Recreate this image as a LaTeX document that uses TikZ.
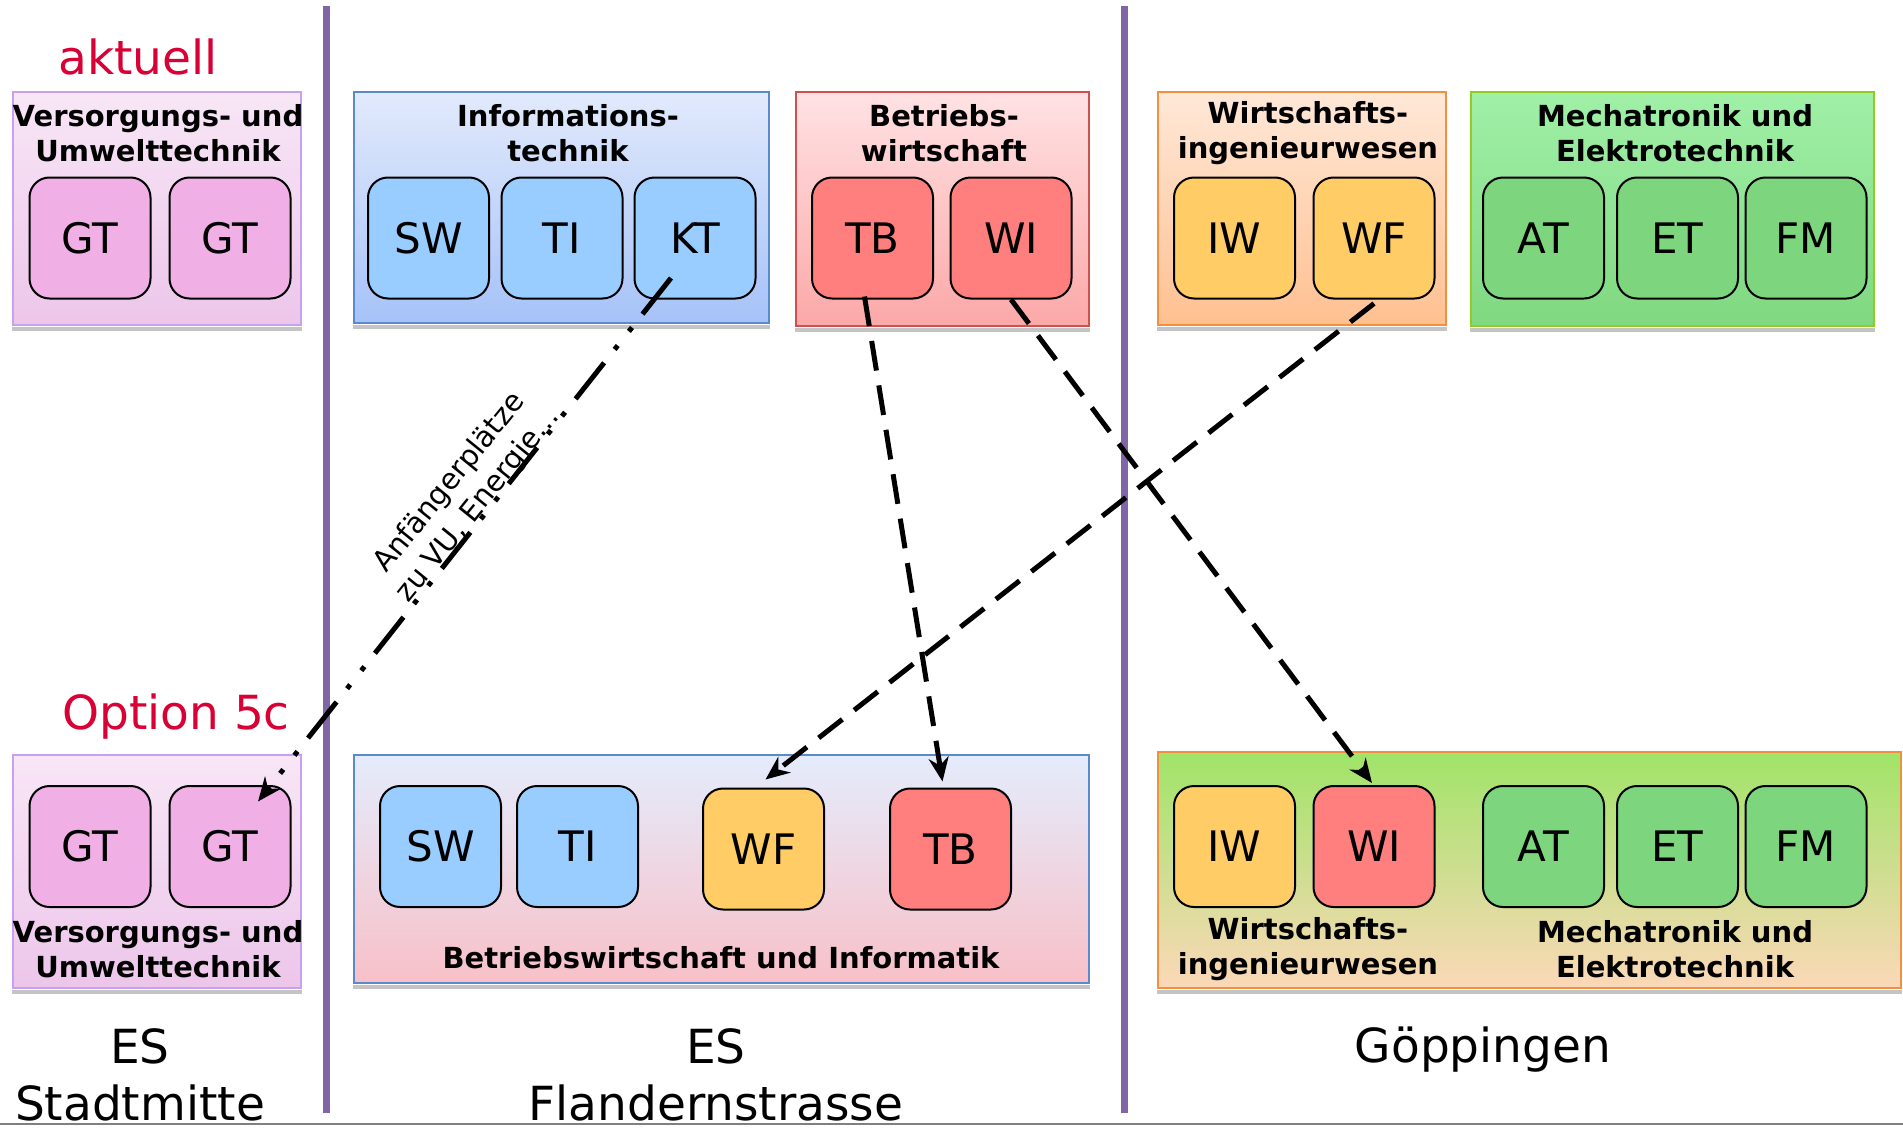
\documentclass[tikz,border=0pt]{standalone}
\usepackage{fontspec}
\setmainfont{DejaVu Sans}
\usetikzlibrary{arrows.meta,calc}
\definecolor{redtxt}{RGB}{216,0,52}
\definecolor{vline}{RGB}{128,102,166}
\definecolor{shadowc}{RGB}{196,196,196}
\definecolor{pinkT}{RGB}{248,230,246}
\definecolor{pinkB}{RGB}{236,198,234}
\definecolor{pinkD}{RGB}{200,160,240}
\definecolor{pinkF}{RGB}{240,176,230}
\definecolor{blueT}{RGB}{226,234,252}
\definecolor{blueB}{RGB}{166,194,248}
\definecolor{blueD}{RGB}{90,138,204}
\definecolor{blueF}{RGB}{153,204,255}
\definecolor{redT}{RGB}{255,226,228}
\definecolor{redB}{RGB}{252,168,168}
\definecolor{redD}{RGB}{208,80,80}
\definecolor{redF}{RGB}{255,127,127}
\definecolor{orT}{RGB}{255,232,216}
\definecolor{orB}{RGB}{255,192,144}
\definecolor{orD}{RGB}{240,144,64}
\definecolor{orF}{RGB}{255,204,102}
\definecolor{grT}{RGB}{160,240,168}
\definecolor{grB}{RGB}{128,216,128}
\definecolor{grD}{RGB}{144,204,32}
\definecolor{grF}{RGB}{125,214,125}
\definecolor{bwiT}{RGB}{228,236,252}
\definecolor{bwiB}{RGB}{248,192,200}
\definecolor{gpT}{RGB}{160,228,104}
\definecolor{gpB}{RGB}{252,216,184}
\tikzset{
  outerbox/.style n args={3}{draw=#1, line width=1.5pt, top color=#2, bottom color=#3, inner sep=0pt},
  inner/.style={draw=black, line width=2pt, rounded corners=20pt, minimum width=121pt, minimum height=121pt, inner sep=0pt, font=\fontsize{42}{50}\selectfont, fill=#1},
  title/.style={align=center, font=\bfseries\fontsize{29}{35}\selectfont, inner sep=0pt},
  place/.style={align=center, font=\fontsize{47}{57}\selectfont, inner sep=0pt},
  redlabel/.style={text=redtxt, font=\fontsize{47}{56}\selectfont, inner sep=0pt},
  dashedarrow/.style={line width=5pt, dash pattern=on 30pt off 15pt, -{Stealth[length=24pt,width=20pt]}},
  dotarrow/.style={line width=5pt, dash pattern=on 46pt off 17pt on 5pt off 18pt on 5pt off 17pt, -{Stealth[length=24pt,width=20pt]}},
}
\newcommand{\boxshadow}[1]{\fill[shadowc] ([yshift=-1pt]#1.south west) rectangle ([yshift=-5pt]#1.south east);}
\begin{document}
\begin{tikzpicture}[x=1pt,y=-1pt]
\useasboundingbox (0,0) rectangle (1903,1127);
\fill[white] (0,0) rectangle (1903,1127);
% bottom rule and separators
\draw[line width=2pt, gray] (0,1124) -- (1903,1124);
\fill[vline] (323,6) rectangle (330,1113);
\fill[vline] (1120.5,6) rectangle (1127.5,1113);

% row labels
\node[redlabel] (akt) at (138,57) {aktuell};
\node[redlabel] (opt) at (176,717) {Option 5c};

% top outer boxes
\node[outerbox={pinkD}{pinkT}{pinkB}, minimum width=288pt, minimum height=233pt] (V1) at (157,208.5) {};
\node[outerbox={blueD}{blueT}{blueB}, minimum width=415pt, minimum height=231pt] (INF) at (561.5,207.5) {};
\node[outerbox={redD}{redT}{redB}, minimum width=293pt, minimum height=234pt] (BW) at (942.5,209) {};
\node[outerbox={orD}{orT}{orB}, minimum width=288pt, minimum height=233pt] (WIG) at (1302,208.5) {};
\node[outerbox={grD}{grT}{grB}, minimum width=403pt, minimum height=234pt] (MT) at (1672.5,209) {};
% bottom outer boxes
\node[outerbox={pinkD}{pinkT}{pinkB}, minimum width=288pt, minimum height=233pt] (V2) at (157,871.5) {};
\node[outerbox={blueD}{bwiT}{bwiB}, minimum width=735pt, minimum height=228pt] (BWI) at (721.5,869) {};
\node[outerbox={orD}{gpT}{gpB}, minimum width=743pt, minimum height=236pt] (GP) at (1529.5,870) {};
\foreach \b in {V1,INF,BW,WIG,MT,V2,BWI,GP}{\boxshadow{\b}}

% titles top
\node[title] (tV1) at (158,133.5) {Versorgungs- und\\Umwelttechnik};
\node[title] (tINF) at (568,133.5) {Informations-\\technik};
\node[title] (tBW) at (944,133.5) {Betriebs-\\wirtschaft};
\node[title] (tWIG) at (1308,133.5) {Wirtschafts-\\ingenieurwesen};
\node[title] (tMT) at (1675,133.5) {Mechatronik und\\Elektrotechnik};
% titles bottom
\node[title] (tV2) at (158,949) {Versorgungs- und\\Umwelttechnik};
\node[title] (tBWI) at (721,958) {Betriebswirtschaft und Informatik};
\node[title] (tGP1) at (1308,949) {Wirtschafts-\\ingenieurwesen};
\node[title] (tGP2) at (1675,949) {Mechatronik und\\Elektrotechnik};

% top inner boxes
\node[inner=pinkF] (GT1) at (90,238) {GT};
\node[inner=pinkF] (GT2) at (230,238) {GT};
\node[inner=blueF] (SW) at (428.5,238) {SW};
\node[inner=blueF] (TI) at (562,238) {TI};
\node[inner=blueF] (KT) at (695,238) {KT};
\node[inner=redF] (TB) at (872.5,238) {TB};
\node[inner=redF] (WI) at (1011,238) {WI};
\node[inner=orF] (IW) at (1234.5,238) {IW};
\node[inner=orF] (WF) at (1374,238) {WF};
\node[inner=grF] (AT) at (1543.5,238) {AT};
\node[inner=grF] (ET) at (1677.5,238) {ET};
\node[inner=grF] (FM) at (1806,238) {FM};
% bottom inner boxes
\node[inner=pinkF] (GTb1) at (90,846.5) {GT};
\node[inner=pinkF] (GTb2) at (230,846.5) {GT};
\node[inner=blueF] (SWb) at (440.5,846.5) {SW};
\node[inner=blueF] (TIb) at (577.5,846.5) {TI};
\node[inner=orF] (WFb) at (763.5,849) {WF};
\node[inner=redF] (TBb) at (950.5,849) {TB};
\node[inner=orF] (IWb) at (1234.5,846.5) {IW};
\node[inner=redF] (WIb) at (1374,846.5) {WI};
\node[inner=grF] (ATb) at (1543.5,846.5) {AT};
\node[inner=grF] (ETb) at (1677.5,846.5) {ET};
\node[inner=grF] (FMb) at (1806,846.5) {FM};

% place names
\node[place] (p1) at (140,1075) {ES\\Stadtmitte};
\node[place] (p2) at (716,1075) {ES\\Flandernstrasse};
\node[place] (p3) at (1483,1050) {Göppingen};

% connectors
\draw[dotarrow] ([shift={(-24,40)}]KT.center) -- ([shift={(28,-45)}]GTb2.center);
\draw[dashedarrow] ([shift={(-8,-3)}]TB.south) -- ([shift={(-8,-6)}]TBb.north);
\draw[dashedarrow] (WI.south) -- ([shift={(-2,-2)}]WIb.north);
\draw[dashedarrow] ([yshift=-4pt]WF.south) -- ([shift={(2,-8)}]WFb.north);
\node[rotate=51, align=center, font=\fontsize{29}{36}\selectfont, inner sep=0pt] (lbl) at (464,494) {Anfängerplätze\\zu VU, Energie...};
\end{tikzpicture}
\end{document}
